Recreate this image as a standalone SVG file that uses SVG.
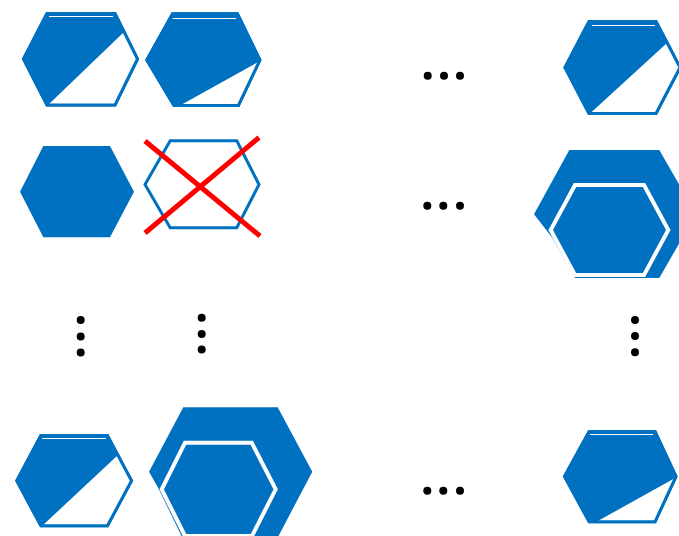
<svg xmlns="http://www.w3.org/2000/svg" width="679" height="536" viewBox="0 0 679 536">
<style>
.hex{fill:#0070C0;stroke:#0070C0;stroke-width:3;stroke-linejoin:miter}
.hexo{fill:none;stroke:#0070C0;stroke-width:3}
.wf{fill:#FFFFFF;stroke:none}
.wl{stroke:#FFFFFF;stroke-width:1.2;fill:none}
.solid{fill:#0070C0;stroke:none}
.inner{fill:#0070C0;stroke:#FFFFFF;stroke-width:4}
.cross{stroke:#FF0000;stroke-width:5;fill:none}
.dot{fill:#000000}
</style>
<rect width="679" height="536" fill="#FFFFFF"/>

<g id="hex-r1c1">
<polygon class="hex" points="23.5,59 47,13.5 115,13.5 137.5,59 115,105 47,105"/>
<polygon class="wf" points="48,105 124,32 137.5,59 115,105"/>
<polygon class="hexo" points="23.5,59 47,13.5 115,13.5 137.5,59 115,105 47,105"/>
<line class="wl" x1="49" y1="16.5" x2="113" y2="16.5"/>
</g>

<g id="hex-r1c2">
<polygon class="hex" points="146.8,60 172.6,13.8 237.4,13.8 259.9,60 238.4,105.5 174,105.5"/>
<polygon class="wf" points="180,105.5 260,61 238.4,105.5"/>
<polygon class="hexo" points="146.8,60 172.6,13.8 237.4,13.8 259.9,60 238.4,105.5 174,105.5"/>
<line class="wl" x1="172.5" y1="18.5" x2="236" y2="18.5"/>
</g>

<g id="hex-r1c3">
<polygon class="hex" points="565,67.5 589,21.5 656,21.5 680,67.5 656,113.5 589,113.5"/>
<polygon class="wf" points="590,113.5 667,43 680,67.5 656,113.5"/>
<polygon class="hexo" points="565,67.5 589,21.5 656,21.5 680,67.5 656,113.5 589,113.5"/>
<line class="wl" x1="592" y1="25.5" x2="655" y2="25.5"/>
</g>

<g id="hex-r2c1">
<polygon class="solid" points="20,191.7 43.3,146 110,146 134,191.7 110,237.3 43.3,237.3"/>
</g>

<g id="hex-r2c2">
<polygon class="hexo" points="145,184.5 170.2,140.8 236.8,140.8 259,184.5 236.8,227.8 170.2,227.8"/>
<line class="cross" x1="145" y1="141" x2="260" y2="236"/>
<line class="cross" x1="259" y1="137.5" x2="145" y2="233"/>
</g>

<g id="hex-r2c3">
<polygon class="solid" points="569.3,150 659.3,150 696,214 659.3,278 575,278 552.5,238 534,214.3"/>
<polygon class="inner" points="575,185 644,185 668.3,230 644,275 575,275 550.7,230"/>
</g>

<g id="hex-r4c1">
<polygon class="hex" points="16.8,480.7 40.9,435.5 107.4,435.5 131.5,480.7 107.4,525.8 40.9,525.8"/>
<polygon class="wf" points="42,526 118,455 131.5,480.7 107.4,525.8"/>
<polygon class="hexo" points="16.8,480.7 40.9,435.5 107.4,435.5 131.5,480.7 107.4,525.8 40.9,525.8"/>
<line class="wl" x1="42.3" y1="438.5" x2="105.7" y2="438.5"/>
</g>

<g id="hex-r4c2">
<polygon class="solid" points="183.3,407.3 277.7,407.3 312.3,471.7 278,537 182,537 158,487.5 149,471.7"/>
<polygon class="inner" points="185,442.7 251.7,442.7 275.7,489.3 252,536 185,536 161.7,489.3"/>
</g>

<g id="hex-r4c3">
<polygon class="hex" points="564.5,476.5 589.2,431.5 655,431.5 676,476.5 655,521.8 589.2,521.8"/>
<polygon class="wf" points="596,522 676,477.5 655,521.8"/>
<polygon class="hexo" points="564.5,476.5 589.2,431.5 655,431.5 676,476.5 655,521.8 589.2,521.8"/>
<line class="wl" x1="590" y1="434.5" x2="653" y2="434.5"/>
</g>

<g id="dots-r1">
<circle class="dot" cx="427.7" cy="75.7" r="4"/>
<circle class="dot" cx="444" cy="75.7" r="4"/>
<circle class="dot" cx="460" cy="75.7" r="4"/>
</g>
<g id="dots-r2">
<circle class="dot" cx="427.3" cy="205.7" r="4"/>
<circle class="dot" cx="443.3" cy="205.7" r="4"/>
<circle class="dot" cx="460" cy="205.7" r="4"/>
</g>
<g id="dots-r4">
<circle class="dot" cx="427.3" cy="490.7" r="4"/>
<circle class="dot" cx="443.3" cy="490.7" r="4"/>
<circle class="dot" cx="460" cy="490.7" r="4"/>
</g>
<g id="dots-c1">
<circle class="dot" cx="80.7" cy="320" r="4"/>
<circle class="dot" cx="80.7" cy="336.5" r="4"/>
<circle class="dot" cx="80.7" cy="352.5" r="4"/>
</g>
<g id="dots-c2">
<circle class="dot" cx="201.7" cy="317.7" r="4"/>
<circle class="dot" cx="201.7" cy="334" r="4"/>
<circle class="dot" cx="201.7" cy="349.5" r="4"/>
</g>
<g id="dots-c3">
<circle class="dot" cx="635" cy="320" r="4"/>
<circle class="dot" cx="635" cy="336" r="4"/>
<circle class="dot" cx="635" cy="352.3" r="4"/>
</g>
</svg>
